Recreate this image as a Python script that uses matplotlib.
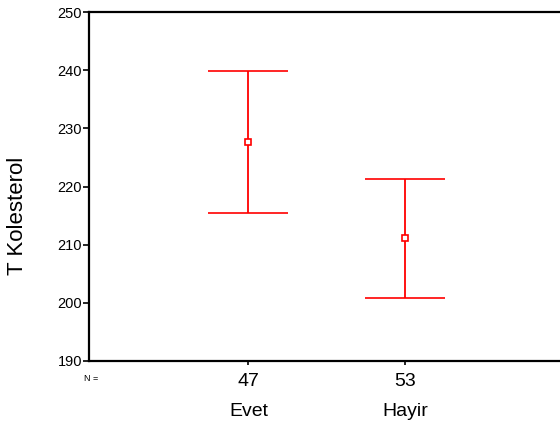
import matplotlib
matplotlib.use("Agg")
import matplotlib.pyplot as plt
from matplotlib.transforms import blended_transform_factory

plt.rcParams["font.family"] = ["Liberation Sans", "DejaVu Sans"]

# ── 資料 ────────────────────────────────────────────
groups = ["Evet", "Hayir"]
n_counts = ["47", "53"]
means = [227.7, 211.2]
upper = [239.9, 221.3]
lower = [215.5, 200.9]

fig = plt.figure(figsize=(5.6, 4.26), dpi=100)
ax = fig.add_axes([0.159, 0.1526, 0.841, 0.8192])

xs = [1, 2]
for x, m, lo, hi in zip(xs, means, lower, upper):
    ax.errorbar(x, m, yerr=[[m - lo], [hi - m]], fmt="s", color="red",
                mfc="white", mec="red", ms=5, mew=1.2, elinewidth=1.3,
                capsize=28.5, capthick=1.3)

ax.set_xlim(-0.015, 2.985)
ax.set_ylim(190, 250)
ax.set_yticks(range(190, 251, 10))
ax.set_xticks(xs)
ax.set_xticklabels(n_counts, fontsize=14)
ax.tick_params(axis="y", labelsize=10.5, length=4, width=1.2, pad=1)
ax.tick_params(axis="x", length=3, width=1.2, pad=6)

ax.spines["right"].set_visible(False)
for side in ["left", "top", "bottom"]:
    ax.spines[side].set_linewidth(1.6)

# 縱軸標題位置比軸中心略低（參考圖如此）
fig.text(17.5 / 560, 1 - 216 / 426, "T Kolesterol", rotation=90,
         ha="center", va="center", fontsize=16)

trans = blended_transform_factory(ax.transData, ax.transAxes)
for x, g in zip(xs, groups):
    ax.text(x, -0.145, g, transform=trans, ha="center", va="center", fontsize=14)
ax.text(-0.01, -0.05, "N =", transform=ax.transAxes, ha="left", va="center", fontsize=6.5)

fig.savefig("out.png", dpi=100)
